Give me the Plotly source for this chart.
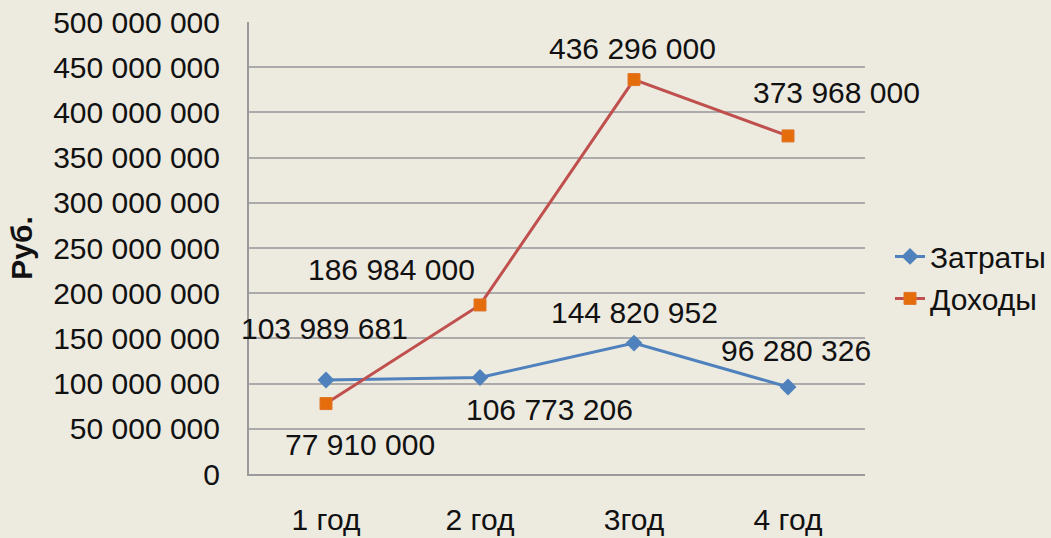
import plotly.graph_objects as go

years = ["1 год", "2 год", "3год", "4 год"]
costs = [103989681, 106773206, 144820952, 96280326]
income = [77910000, 186984000, 436296000, 373968000]
y_ticks = [0, 50000000, 100000000, 150000000, 200000000, 250000000,
           300000000, 350000000, 400000000, 450000000, 500000000]

BG = "#EDEAE0"
FONT = "Liberation Sans, Arial, sans-serif"
FS = 30


def fmt(v):
    return f"{v:,}".replace(",", " ")


fig = go.Figure()
fig.add_trace(go.Scatter(
    x=years, y=costs, name="Затраты", mode="lines+markers",
    line=dict(color="#4F81BD", width=3),
    marker=dict(symbol="diamond", size=13, color="#4F81BD"),
))
fig.add_trace(go.Scatter(
    x=years, y=income, name="Доходы", mode="lines+markers",
    line=dict(color="#C0504D", width=3),
    marker=dict(symbol="square", size=12, color="#E46C0A",
                line=dict(color="#E0762A", width=1)),
))

# data labels: (x shift, y shift) per point
cost_shifts = [(-2, 51), (69, -32), (0, 31), (8, 36)]
income_shifts = [(34, -41), (-89, 35), (-2, 31), (48, 43)]
for series, shifts in ((costs, cost_shifts), (income, income_shifts)):
    for xv, yv, (dx, dy) in zip(years, series, shifts):
        fig.add_annotation(x=xv, y=yv, text=fmt(yv), showarrow=False,
                           xshift=dx, yshift=dy,
                           font=dict(family=FONT, size=FS, color="#111111"))

fig.update_layout(
    width=1051, height=538,
    paper_bgcolor=BG, plot_bgcolor=BG,
    margin=dict(l=249, r=186, t=22, b=64),
    font=dict(family=FONT, size=FS, color="#111111"),
    separators=", ",
    showlegend=True,
    legend=dict(x=1.0, xref="container", y=0.435, xanchor="right",
                yanchor="middle", bgcolor="rgba(0,0,0,0)",
                font=dict(size=FS), itemwidth=30),
)
fig.update_xaxes(
    range=[-0.5, 3.5], showgrid=False, showline=True,
    linecolor="#9A9A9A", linewidth=2, ticks="", automargin=False,
    ticklabelstandoff=18, tickfont=dict(size=FS),
)
fig.update_yaxes(
    range=[0, 500000000], tickvals=y_ticks, tickformat=",d",
    showgrid=True, gridcolor="#ABABAB", gridwidth=2,
    showline=True, linecolor="#9A9A9A", linewidth=2, automargin=False,
    zeroline=False, ticks="", ticklabelstandoff=21,
    tickfont=dict(size=FS),
    title=dict(text="<b>Руб.</b>", font=dict(size=FS), standoff=12),
)

fig.write_html("out.html")
